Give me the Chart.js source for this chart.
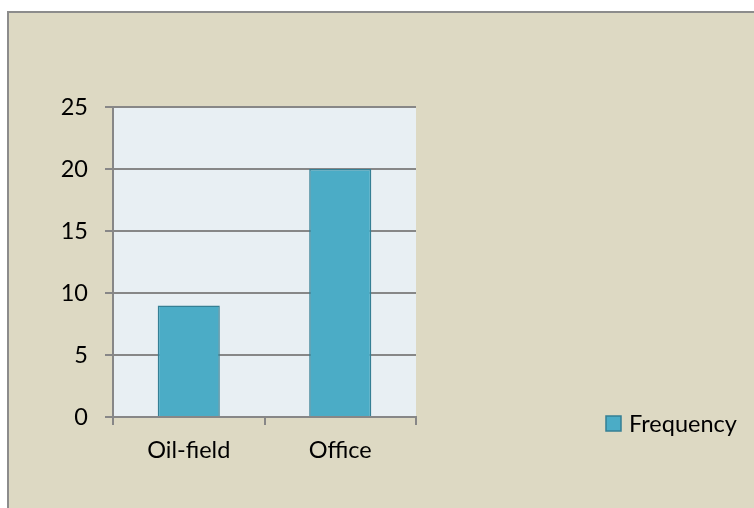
<!DOCTYPE html>
<html>
<head>
<meta charset="utf-8">
<script src="https://cdn.jsdelivr.net/npm/chart.js@4/dist/chart.umd.min.js"></script>
<style>
  html, body { margin: 0; padding: 0; background: #ffffff; }
  #frame {
    position: absolute; left: 7px; top: 11px; right: 0; bottom: 0;
    background: #ddd9c3;
    border-left: 2px solid #8c8c8c;
    border-top: 2px solid #8c8c8c;
  }
  #wrap { position: absolute; left: 0; top: 0; width: 754px; height: 508px; }
</style>
</head>
<body>
<div id="frame"></div>
<div id="wrap"><canvas id="chart" width="754" height="508"></canvas></div>
<script>
// 数据
const categories = ['Oil-field', 'Office'];
const frequency = [9, 20];
const seriesName = 'Frequency';
const yTicks = [0, 5, 10, 15, 20, 25];

const FONT = 'Lato, "Open Sans", sans-serif';
const FONT_SIZE = 23.5;
const GRID = '#878787';
const BAR = '#4bacc6';
const BAR_EDGE = '#357f94';

// 绘图区背景
const plotBg = {
  id: 'plotBg',
  beforeDraw(chart) {
    const a = chart.chartArea, c = chart.ctx;
    c.save();
    c.fillStyle = '#e8eff3';
    c.fillRect(a.left, a.top, a.right - a.left, a.bottom - a.top);
    c.restore();
  }
};

// 右侧图例
const sideLegend = {
  id: 'sideLegend',
  afterDraw(chart) {
    const c = chart.ctx;
    c.save();
    c.fillStyle = BAR;
    c.strokeStyle = BAR_EDGE;
    c.lineWidth = 1.5;
    c.fillRect(606, 416, 15, 15);
    c.strokeRect(606, 416, 15, 15);
    c.fillStyle = '#000';
    c.font = FONT_SIZE + 'px ' + FONT;
    c.textBaseline = 'middle';
    c.fillText(chart.data.datasets[0].label, 629, 424);
    c.restore();
  }
};

new Chart(document.getElementById('chart'), {
  type: 'bar',
  data: {
    labels: categories,
    datasets: [{
      label: seriesName,
      data: frequency,
      backgroundColor: BAR,
      borderColor: BAR_EDGE,
      borderWidth: 1.5,
      categoryPercentage: 0.41,
      barPercentage: 1
    }]
  },
  options: {
    responsive: false,
    animation: false,
    events: [],
    layout: { padding: { top: 107, right: 338, left: 0, bottom: 0 } },
    plugins: { legend: { display: false }, tooltip: { enabled: false } },
    scales: {
      x: {
        afterFit(s) { s.height = 91; },
        grid: { offset: true, drawOnChartArea: false, color: GRID, lineWidth: 2, tickLength: 8 },
        border: { color: GRID, width: 2 },
        ticks: { color: '#000', font: { family: FONT, size: FONT_SIZE }, padding: 11 }
      },
      y: {
        min: 0, max: 25,
        afterFit(s) { s.width = 113; },
        afterBuildTicks(s) { s.ticks = yTicks.map(v => ({ value: v })); },
        grid: { color: GRID, lineWidth: 2, tickLength: 8 },
        border: { color: GRID, width: 2 },
        ticks: { color: '#000', font: { family: FONT, size: FONT_SIZE }, padding: 17 }
      }
    }
  },
  plugins: [plotBg, sideLegend]
});
</script>
</body>
</html>
